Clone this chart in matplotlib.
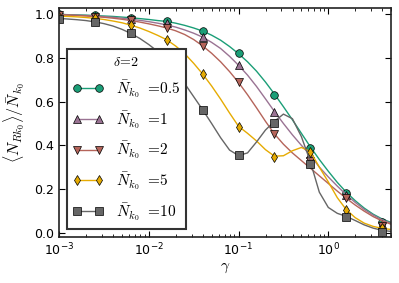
import numpy as np
import matplotlib
matplotlib.use('Agg')
import matplotlib.pyplot as plt
from matplotlib.lines import Line2D

# gamma positions of simulation points and of the read-off theory curves
gamma_pts = [0.001, 0.0025, 0.0063, 0.0158, 0.0398, 0.1, 0.251, 0.631, 1.585, 3.98]
gamma_curve = 10 ** np.round(np.arange(-3.0, 0.75, 0.1), 1)

labels = ['0.5', '1', '2', '5', '10']
colors = ['#1b9e77', '#9a7393', '#b5645a', '#e6ab02', '#666666']
markers = ['o', '^', 'v', 'd', 's']

# simulation points
pts_05 = [1.0, .996, .985, .972, .926, .822, .632, .388, .182, .048]
pts_1 = [.999, .994, .98, .963, .898, .768, .553, .36, .172, .04]
pts_2 = [.997, .99, .973, .94, .856, .69, .452, .33, .16, .032]
pts_5 = [.99, .985, .95, .884, .726, .486, .347, .37, .103, .02]
pts_10 = [.98, .967, .913, .75, .563, .356, .50, .315, .073, .003]

# theory curves (log10 gamma = -3.0 ... 0.7 in steps of 0.1)
curve_05 = [1.000, .999, .998, .997, .995, .993, .991, .988, .985, .981,
            .977, .972, .968, .960, .950, .938, .924, .905, .882, .853,
            .820, .783, .740, .690, .635, .577, .517, .455, .393, .335,
            .281, .230, .185, .146, .112, .084, .062, .046]
curve_1 = [.999, .998, .997, .995, .993, .990, .987, .983, .978, .973,
           .967, .960, .952, .942, .929, .914, .896, .872, .844, .808,
           .767, .722, .670, .613, .555, .500, .448, .400, .355, .300,
           .255, .213, .173, .138, .106, .080, .058, .042]
curve_2 = [.998, .997, .995, .993, .990, .987, .983, .978, .972, .965,
           .957, .948, .938, .925, .908, .885, .856, .822, .783, .738,
           .688, .632, .572, .510, .452, .405, .365, .330, .295, .260,
           .225, .190, .157, .126, .098, .073, .053, .038]
curve_5 = [.992, .991, .989, .986, .982, .977, .970, .962, .951, .938,
           .922, .904, .884, .855, .820, .776, .727, .672, .612, .548,
           .487, .455, .420, .380, .350, .352, .375, .390, .372, .300,
           .232, .160, .105, .068, .043, .028, .019, .014]
curve_10 = [.982, .979, .976, .972, .966, .958, .947, .932, .913, .890,
            .862, .830, .790, .740, .683, .623, .563, .500, .435, .378,
            .353, .365, .415, .470, .510, .543, .522, .440, .325, .185,
            .115, .088, .074, .055, .035, .020, .010, .005]

pts = [pts_05, pts_1, pts_2, pts_5, pts_10]
curves = [curve_05, curve_1, curve_2, curve_5, curve_10]

fig = plt.figure(figsize=(3.99, 2.83), dpi=100)
ax = fig.add_axes([0.148, 0.163, 0.832, 0.809])

handles = []
for y_pts, y_cur, c, m, lab in zip(pts, curves, colors, markers, labels):
    ax.plot(gamma_curve, y_cur, color=c, lw=1.0)
    ax.plot(gamma_pts, y_pts, ls='none', marker=m, ms=5.5, mfc=c, mec='k', mew=0.5)
    handles.append(Line2D([], [], color=c, lw=1.0, marker=m, ms=5.5, mfc=c, mec='k', mew=0.5,
                          label=r'$\bar{N}_{k_0}\ =\!' + lab + '$'))

ax.set_xscale('log')
ax.set_xlim(1e-3, 5.0)
ax.set_ylim(-0.02, 1.03)
ax.set_yticks([0.0, 0.2, 0.4, 0.6, 0.8, 1.0])
ax.tick_params(which='both', direction='in', top=True, right=True, labelsize=9)
ax.tick_params(which='major', length=4, width=0.8)
ax.tick_params(which='minor', length=2, width=0.6)
for sp in ax.spines.values():
    sp.set_linewidth(1.2)
    sp.set_color('#222222')

ax.set_xlabel(r'$\gamma$', fontsize=11, math_fontfamily='cm', labelpad=1)
ax.set_ylabel(r'$\langle N_{Rk_0}\rangle/\bar{N}_{k_0}$', fontsize=11.5, math_fontfamily='cm', labelpad=5)

leg = ax.legend(handles=handles, loc='lower left', bbox_to_anchor=(0.023, 0.035),
                borderaxespad=0, numpoints=2, handlelength=2.0, fontsize=11,
                labelspacing=0.58, fancybox=False, framealpha=1.0,
                title=r'$\delta\!=\!2$', title_fontsize=10)
leg.get_frame().set_edgecolor('#333333')
leg.get_frame().set_linewidth(1.5)
for t in leg.get_texts():
    t.set_math_fontfamily('cm')
leg.get_title().set_math_fontfamily('cm')

fig.savefig('out.png', dpi=100)
